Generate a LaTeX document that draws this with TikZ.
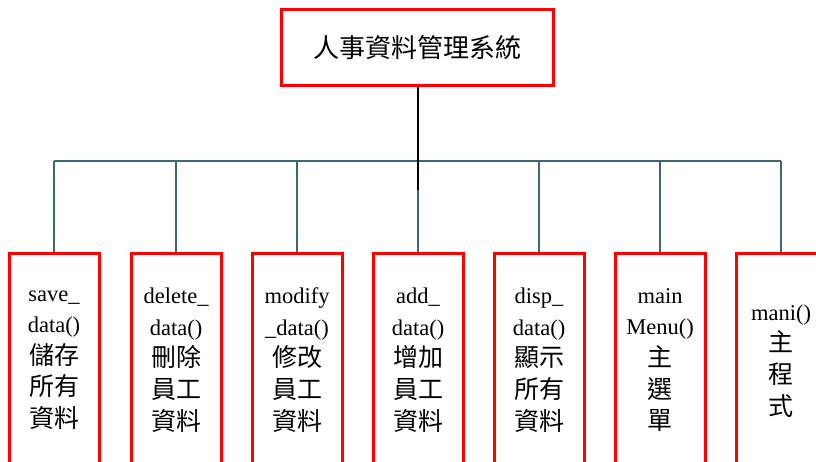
\documentclass[tikz,border=0pt]{standalone}
\usepackage{fontspec}
\setmainfont{Liberation Serif}
\newfontfamily\cjk{Noto Sans CJK TC}
\newcommand\zh[1]{{\cjk\fontsize{25}{31.6}\selectfont #1}}
\definecolor{linkteal}{RGB}{58,104,117}
\definecolor{boxred}{RGB}{255,0,0}
\begin{document}
\begin{tikzpicture}[x=1pt,y=-1pt,
  topbox/.style={draw=boxred,line width=3pt,minimum width=272pt,minimum height=76pt,inner sep=0pt,font=\cjk\fontsize{26}{30}\selectfont},
  funcbox/.style={draw=boxred,line width=3pt,minimum width=90pt,minimum height=240pt,inner sep=0pt,anchor=north},
  functext/.style={align=center,inner sep=0pt,font=\fontsize{22.5}{31.6}\selectfont},
  link/.style={draw=linkteal,line width=1.8pt},
  trunk/.style={draw=black,line width=1.8pt}]
\useasboundingbox (0,0) rectangle (816,462);
\clip (0,0) rectangle (816,462);
\fill[white] (0,0) rectangle (816,462);

\node[topbox] (top) at (417,48) {人事資料管理系統};

\node[funcbox] (b1) at (54,252) {};
\node[funcbox] (b2) at (176,252) {};
\node[funcbox] (b3) at (297,252) {};
\node[funcbox] (b4) at (418,252) {};
\node[funcbox] (b5) at (539,252) {};
\node[funcbox] (b6) at (660,252) {};
\node[funcbox] (b7) at (781,252) {};

\node[functext] (t1) at (54,360) {save\_\\data()\\\zh{儲存}\\\zh{所有}\\\zh{資料}};
\node[functext] (t2) at (176,360) {delete\_\\data()\\\zh{刪除}\\\zh{員工}\\\zh{資料}};
\node[functext] (t3) at (297,360) {modify\\\_data()\\\zh{修改}\\\zh{員工}\\\zh{資料}};
\node[functext] (t4) at (418,360) {add\_\\data()\\\zh{增加}\\\zh{員工}\\\zh{資料}};
\node[functext] (t5) at (539,360) {disp\_\\data()\\\zh{顯示}\\\zh{所有}\\\zh{資料}};
\node[functext] (t6) at (660,360) {main\\Menu()\\\zh{主}\\\zh{選}\\\zh{單}};
\node[functext] (t7) at (781,361) {mani()\\\zh{主}\\\zh{程}\\\zh{式}};

\coordinate (barL) at (54,161);
\coordinate (barR) at (781,161);
\coordinate (trunkEnd) at (418,190);
\draw[link] (barL) -- (barR);
\foreach \i in {1,...,7} {
  \draw[link] (b\i.north |- barL) -- (b\i.north);
}
\draw[trunk] (top.south -| trunkEnd) -- (trunkEnd);
\end{tikzpicture}
\end{document}
